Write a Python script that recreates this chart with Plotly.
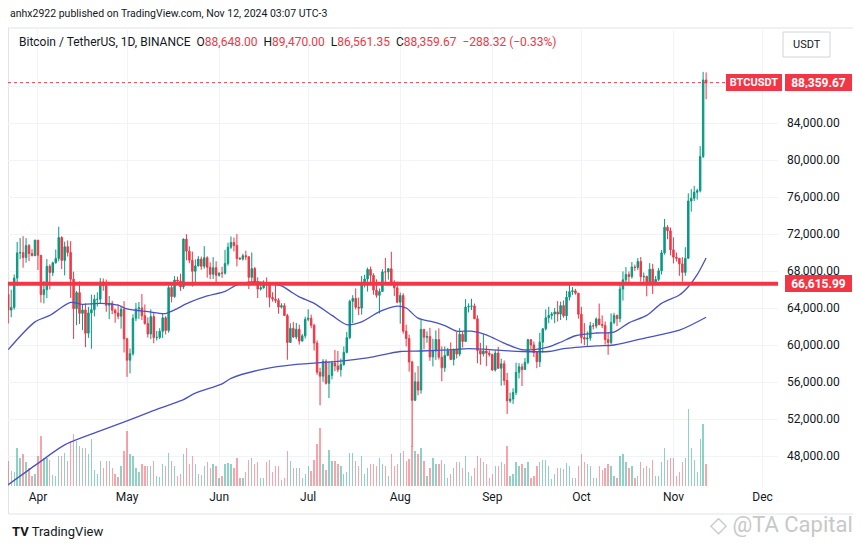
import plotly.graph_objects as go
import pandas as pd

# ---------------- data (BTC/USDT daily) ----------------
start_date = "2024-03-22"

opens = [65463,63778,64062,67234,69958,69987,69455,70744,69892,69647,
 71333,69702,65446,65980,68508,67837,68896,69360,71620,69146,
 70631,70006,67116,63924,65662,63420,63793,61277,63470,63818,
 64941,64941,66819,66415,64289,64499,63770,63462,63118,63867,
 60672,58364,59060,62883,63892,64012,63162,62313,61193,63074,
 60799,60826,61484,62940,61578,66206,65235,67024,66915,66274,
 71446,70148,69166,67969,68549,69291,68507,69436,68398,67652,68353,
 67540,67766,67765,68809,70567,71082,70757,69342,69306,69648,
 69540,67314,68264,66774,66044,66195,66640,66490,65146,64961,
 64829,64097,64253,63180,60277,61805,60864,61707,60427,60987,
 62773,62900,62135,60208,57050,56628,58230,55857,56714,58052,
 57725,57335,57889,59204,60798,64725,65043,64088,63988,66661,
 67139,68166,67532,65937,65372,65777,67908,67897,68250,66784,66188,
 64628,65354,61499,60698,58161,54019,56022,55134,61686,60837,
 60924,58713,59347,60588,58683,57542,58875,59412,58427,59439,
 59014,61158,60381,64095,64179,64220,62835,59416,59034,59360,59123,
 58974,57301,59132,57487,57971,56160,53962,54160,54869,57042,
 57636,57339,58128,60571,60005,59182,58192,60309,61759,62948,
 63201,63349,63578,63339,64262,63152,65173,65769,65858,65603,
 63327,60805,60650,60751,62086,62058,62819,62224,62131,60583,
 60275,62445,63193,62852,66047,67042,67612,67400,68428,68378,
 69032,67378,67426,66668,68198,66698,67092,68022,69962,72736,72344,
 70292,69497,69374,68775,67850,69372,75571,75857,76510,76677,
 80370,88648]

highs = [66649,65976,67624,71150,71561,71769,71552,70913,70355,71377,
 71342,69708,66915,69292,68725,69000,70327,72797,71758,71172,
 71305,71227,67932,65840,66867,64365,64499,64125,65450,65419,
 65695,67233,67199,67075,65297,64789,63923,64370,64228,64735,
 60780,59625,63320,64545,64646,65500,64391,62984,63850,63470,
 61515,61818,63450,63118,66454,66752,67451,67400,67700,71515,
 71980,70666,70096,69250,69610,69562,70687,69591,68935,69500,69044,
 67860,68460,70288,71064,71735,71625,71997,69524,69875,70195,
 69590,69999,68450,67315,66445,66990,67298,66556,65700,66483,
 65066,64520,64525,63370,62350,62480,62379,62200,61200,63058,
 63861,63288,62285,60499,57546,58475,58449,58236,58296,59470,
 59359,58532,59850,61420,64900,65388,66128,65133,67470,67598,
 68366,68479,67750,67102,66112,68200,69399,68319,70079,66999,66849,
 65660,65596,62198,61117,58306,57040,57726,62745,61744,61470,
 61858,60680,61578,61800,59848,59850,59689,60281,59618,61400,
 61820,61400,64955,64500,65000,64481,63212,60234,61166,59950,59433,
 59062,59425,59809,58520,58327,56995,54850,55318,58088,58044,
 57995,58588,60670,60656,60381,59210,61316,61786,63850,64133,
 63559,64000,64745,64688,64817,65839,66498,66260,66076,65618,
 64130,62370,61470,62485,62370,62975,64478,63200,62543,61320,
 63417,63480,63285,66500,67950,68424,67939,68969,68693,69400,
 69520,67836,67472,68850,68771,67454,68332,70270,73620,72961,72700,
 71632,70000,69391,69500,70577,76400,76850,77199,76900,81500,
 89530,89470]

lows = [62330,63000,63825,66385,69280,68359,68904,69076,69601,69624,
 68110,64586,64494,65064,66011,67450,68791,69043,68210,67518,
 69567,65086,60660,62134,62274,61600,59768,60775,59600,63090,
 64160,64500,65864,63589,62795,63322,62410,62781,61765,59191,
 56552,56937,58849,62574,62822,62700,62208,60800,60632,60187,
 60488,60632,60750,61142,61330,64602,65106,66600,65857,66060,
 69162,68832,66312,66600,68500,68128,68250,67277,67124,67131,66670,
 67386,67257,67612,68567,70391,70119,68500,69210,69125,69172,
 66051,66905,66763,65078,65880,66080,65130,64067,64694,64547,
 63379,63943,63180,58402,60260,60766,60616,60040,60383,60702,
 62570,61806,59400,56771,53485,56018,55724,54260,56289,57157,
 57052,56590,57756,59096,60632,62373,63854,63238,63300,66222,
 65777,66574,65441,65111,63400,65744,66705,67067,66428,65302,64530,
 62302,61230,59850,57123,49000,53968,54558,54730,59535,60242,
 58287,57688,58392,58433,56078,57098,58785,58400,57787,58548,
 58783,59724,60345,63520,63784,62800,58034,57860,58755,57712,58744,
 57201,57128,57415,55606,55643,52550,53745,53629,54591,56386,
 55561,57324,57917,59557,58696,57493,57628,59174,61555,62350,
 62758,62357,62538,62700,62947,62670,64819,65422,65432,62856,
 60164,59981,59828,60460,61689,61798,62128,61824,60044,58946,
 60087,62250,62050,62457,64800,66750,66666,67177,68010,68102,
 66840,66571,65260,66451,65522,66439,66913,67618,69760,71436,69685,
 68820,69020,67478,66835,67476,69298,74416,75556,75714,76492,
 80216,86561]

closes = [63778,64062,67234,69958,69987,69455,70744,69892,69647,71333,
 69702,65446,65980,68508,67837,68896,69360,71620,69146,70631,
 70006,67116,63924,65662,63420,63793,61277,63470,63818,64941,
 64941,66819,66415,64289,64499,63770,63462,63118,63867,60672,
 58364,59060,62883,63892,64012,63162,62313,61193,63074,60799,
 60826,61484,62940,61578,66206,65235,67024,66915,66274,71446,
 70148,69166,67969,68549,69291,68507,69436,68398,67652,68353,67540,
 67766,67765,68809,70567,71082,70757,69342,69306,69648,69540,
 67314,68264,66774,66044,66195,66640,66490,65146,64961,64829,
 64097,64253,63180,60277,61805,60864,61707,60427,60987,62773,
 62900,62135,60208,57050,56628,58230,55857,56714,58052,57725,
 57335,57889,59204,60798,64725,65043,64088,63988,66661,67139,
 68166,67532,65937,65372,65777,67908,67897,68250,66784,66188,64628,
 65354,61499,60698,58161,54019,56022,55134,61686,60837,60924,
 58713,59347,60588,58683,57542,58875,59412,58427,59439,59014,
 61158,60381,64095,64179,64220,62835,59416,59034,59360,59123,58974,
 57301,59132,57487,57971,56160,53962,54160,54869,57042,57636,
 57339,58128,60571,60005,59182,58192,60309,61759,62948,63201,
 63349,63578,63339,64262,63152,65173,65769,65858,65603,63327,
 60805,60650,60751,62086,62058,62819,62224,62131,60583,60275,
 62445,63193,62852,66047,67042,67612,67400,68428,68378,69032,
 67378,67426,66668,68198,66698,67092,68022,69962,72736,72344,70292,
 69497,69374,68775,67850,69372,75571,75857,76510,76677,80370,
 88648,88360]

volumes = [25,15,14,38,28,32,24,18,10,12,
 30,50,28,28,26,11,10,30,30,33,
 25,45,52,45,40,38,38,32,47,16,
 12,25,18,25,25,18,12,9,20,35,
 55,32,30,18,14,22,20,20,20,25,
 10,9,22,20,33,25,20,10,12,32,
 38,22,30,22,12,11,20,24,18,22,20,
 8,10,22,23,22,18,28,8,8,14,
 26,28,22,24,8,8,24,26,14,20,
 20,6,8,35,25,18,18,18,8,12,
 20,15,26,42,58,22,16,36,25,25,
 22,20,12,14,33,33,25,20,30,12,
 18,22,22,20,28,22,20,10,32,20,22,
 33,35,25,27,40,35,32,38,25,10,
 18,28,22,22,26,22,8,12,18,24,
 24,18,30,14,10,18,30,28,24,22,8,
 12,20,20,24,22,40,10,12,24,20,
 22,18,24,8,10,20,24,26,26,20,
 7,12,18,18,17,23,20,8,8,20,
 32,24,22,20,8,8,20,16,18,22,
 20,10,8,30,32,24,18,20,8,10,
 24,18,20,18,26,10,10,24,38,26,28,
 28,10,14,24,28,77,38,26,14,47,
 62,22]

# moving averages at sample dates
ma_fast_dates = ["2024-03-22","2024-03-31","2024-04-05","2024-04-12","2024-04-16","2024-04-22",
 "2024-04-28","2024-05-01","2024-05-08","2024-05-14","2024-05-17","2024-05-22","2024-05-28",
 "2024-06-03","2024-06-07","2024-06-11","2024-06-17","2024-06-22","2024-06-25","2024-06-28",
 "2024-07-03","2024-07-09","2024-07-14","2024-07-19","2024-07-25","2024-07-31","2024-08-03",
 "2024-08-07","2024-08-12","2024-08-16","2024-08-20","2024-08-25","2024-08-30","2024-09-05",
 "2024-09-11","2024-09-15","2024-09-20","2024-09-24","2024-09-29","2024-10-06","2024-10-12",
 "2024-10-17","2024-10-23","2024-10-28","2024-11-03","2024-11-06","2024-11-09","2024-11-12"]
ma_fast_vals = [59500,62500,63200,64600,64400,64500,
 64300,63900,63600,63400,63800,64600,65300,
 65800,66500,66800,66700,66400,65800,65200,
 64500,63200,62200,62500,63600,64200,64000,
 62900,62500,62100,61500,61500,61100,60200,
 59500,59500,59800,60300,61000,61300,61400,
 62400,63200,64500,65400,66300,67600,69400]

ma_slow_dates = ["2024-03-22","2024-04-01","2024-04-10","2024-04-21","2024-05-01","2024-05-09",
 "2024-05-15","2024-05-20","2024-05-24","2024-06-02","2024-06-05","2024-06-16","2024-06-27",
 "2024-07-10","2024-07-21","2024-08-01","2024-08-08","2024-08-19","2024-08-24","2024-09-11",
 "2024-09-20","2024-09-25","2024-10-06","2024-10-12","2024-10-23","2024-11-03","2024-11-12"]
ma_slow_vals = [44900,47200,49200,50600,51800,52800,
 53500,54100,54800,55800,56400,57400,57900,
 58200,58600,59300,59350,59500,59600,59300,
 59300,59600,59900,60000,60800,61600,63000]

support_level = 66615.99
last_price = 88359.67
y_ticks = [48000, 52000, 56000, 60000, 64000, 68000, 72000, 76000, 80000, 84000, 88000]
y_tick_text = ["48,000.00", "52,000.00", "56,000.00", "60,000.00", "64,000.00", "68,000.00",
               "72,000.00", "76,000.00", "80,000.00", "84,000.00", ""]
month_ticks = ["2024-04-01", "2024-05-01", "2024-06-01", "2024-07-01", "2024-08-01",
               "2024-09-01", "2024-10-01", "2024-11-01", "2024-12-01"]
month_labels = ["Apr", "May", "Jun", "Jul", "Aug", "Sep", "Oct", "Nov", "Dec"]

# ---------------- figure geometry (screen px -> figure coords) ----------------
OX, OY = 8, 8                      # page body margin
W, H = 853, 541
ML, MR, MT, MB = 0, 83, 22, 61
PW, PH = W - ML - MR, H - MT - MB  # 770 x 458


def px_x(sx):
    return (sx - OX - ML) / PW


def px_y(sy):
    return (H - MB - (sy - OY)) / PH


UP = "#089981"
DN = "#F23645"
MA = "#4a52c0"
TXT = "#131722"
GRID = "#f0f3fa"
FONT = "Roboto"

dates = pd.date_range(start_date, periods=len(closes), freq="D")
vol_colors = ["rgba(8,153,129,0.45)" if c >= o else "rgba(242,54,69,0.45)"
              for o, c in zip(opens, closes)]

fig = go.Figure()
fig.add_trace(go.Bar(x=dates, y=volumes, marker=dict(color=vol_colors, line=dict(width=0)),
                     width=0.45 * 86400000, yaxis="y", hoverinfo="skip", showlegend=False))
fig.add_trace(go.Candlestick(x=dates, open=opens, high=highs, low=lows, close=closes,
                             increasing=dict(line=dict(color=UP, width=1), fillcolor=UP),
                             decreasing=dict(line=dict(color=DN, width=1), fillcolor=DN),
                             whiskerwidth=0, yaxis="y2", showlegend=False))
fig.add_trace(go.Scatter(x=pd.to_datetime(ma_slow_dates), y=ma_slow_vals, mode="lines",
                         line=dict(color=MA, width=1.3, shape="spline", smoothing=0.8),
                         yaxis="y2", showlegend=False, hoverinfo="skip"))
fig.add_trace(go.Scatter(x=pd.to_datetime(ma_fast_dates), y=ma_fast_vals, mode="lines",
                         line=dict(color=MA, width=1.3, shape="spline", smoothing=0.8),
                         yaxis="y2", showlegend=False, hoverinfo="skip"))

# price scale: 60,000 at screen y=345, 9.25 px per 1,000
y_lo = 60000 - (488 - 345) / 0.00925
y_hi = 60000 + (345 - 30) / 0.00925
vol_base = 486

shapes = [
    dict(type="rect", xref="paper", yref="paper", x0=px_x(8.5), x1=px_x(855), y0=px_y(514), y1=px_y(28),
         line=dict(color="#e0e3eb", width=1), layer="below"),
    dict(type="line", xref="paper", yref="y2", x0=0, x1=1, y0=support_level, y1=support_level,
         line=dict(color=DN, width=4), layer="above"),
    dict(type="line", xref="paper", yref="y2", x0=0, x1=1, y0=last_price, y1=last_price,
         line=dict(color=DN, width=1, dash="dot"), layer="above"),
    dict(type="rect", xref="paper", yref="paper", x0=px_x(783), x1=px_x(830), y0=px_y(57), y1=px_y(32),
         line=dict(color="#d1d4dc", width=1), fillcolor="white"),
]

ann = [
    dict(x=px_x(8), y=px_y(14), xref="paper", yref="paper", xanchor="left", yanchor="middle",
         text="anhx2922 published on TradingView.com, Nov 12, 2024 03:07 UTC-3",
         showarrow=False, font=dict(size=10.5, color=TXT, family=FONT)),
    dict(x=px_x(17), y=px_y(42), xref="paper", yref="paper", xanchor="left", yanchor="middle",
         text=("Bitcoin / TetherUS, 1D, BINANCE  O<span style='color:%s'>88,648.00</span>  "
               "H<span style='color:%s'>89,470.00</span>  L<span style='color:%s'>86,561.35</span>  "
               "C<span style='color:%s'>88,359.67</span>  <span style='color:%s'>\u2212288.32 (\u22120.33%%)</span>")
              % (DN, DN, DN, DN, DN),
         showarrow=False, font=dict(size=12, color=TXT, family=FONT)),
    dict(x=px_x(806.5), y=px_y(44.5), xref="paper", yref="paper", xanchor="center", yanchor="middle",
         text="USDT", showarrow=False, font=dict(size=11, color=TXT, family=FONT)),
    dict(x=px_x(754), y=last_price, xref="paper", yref="y2", xanchor="center", yanchor="middle",
         text="<b>BTCUSDT</b>", showarrow=False, bgcolor=DN, borderpad=2, borderwidth=1,
         bordercolor=DN, width=50, height=11,
         font=dict(size=11, color="white", family=FONT)),
    dict(x=px_x(818.5), y=last_price, xref="paper", yref="y2", xanchor="center", yanchor="middle",
         text="<b>88,359.67</b>", showarrow=False, bgcolor=DN, borderpad=2, borderwidth=1,
         bordercolor=DN, width=61, height=11,
         font=dict(size=12, color="white", family=FONT)),
    dict(x=px_x(818.5), y=support_level, xref="paper", yref="y2", xanchor="center", yanchor="middle",
         text="<b>66,615.99</b>", showarrow=False, bgcolor=DN, borderpad=2, borderwidth=1,
         bordercolor=DN, width=61, height=11,
         font=dict(size=12, color="white", family=FONT)),
    dict(x=px_x(10), y=px_y(531), xref="paper", yref="paper", xanchor="left", yanchor="middle",
         text="<b>TV</b> TradingView", showarrow=False, font=dict(size=13, color=TXT, family=FONT)),
    dict(x=px_x(855), y=px_y(524), xref="paper", yref="paper", xanchor="right", yanchor="middle",
         text="\u25C7 @TA Capital", showarrow=False, font=dict(size=22, color="#c8c8c8", family=FONT)),
]

fig.update_layout(
    width=W, height=H,
    margin=dict(l=ML, r=MR, t=MT, b=MB, pad=0),
    paper_bgcolor="white", plot_bgcolor="white",
    template="none",
    showlegend=False,
    bargap=0,
    font=dict(family=FONT, size=12, color=TXT),
    xaxis=dict(type="date", range=["2024-03-21 22:00", "2024-12-06 05:00"],
               tickmode="array", tickvals=month_ticks, ticktext=month_labels,
               showgrid=True, gridcolor=GRID, gridwidth=1, zeroline=False, showline=False,
               ticks="", rangeslider=dict(visible=False), automargin=False,
               tickfont=dict(size=12, color=TXT, family=FONT)),
    yaxis=dict(range=[-(488 - vol_base), PH - (488 - vol_base)], visible=False, fixedrange=True,
               showgrid=False, automargin=False),
    yaxis2=dict(overlaying="y", side="right", range=[y_lo, y_hi], tickmode="array",
                tickvals=y_ticks, ticktext=y_tick_text, showgrid=True, gridcolor=GRID, gridwidth=1,
                zeroline=False, showline=False, ticks="", ticklabelstandoff=8, automargin=False,
                tickfont=dict(size=12, color=TXT, family=FONT)),
    shapes=shapes,
    annotations=ann,
)

fig.write_html("out.html")
